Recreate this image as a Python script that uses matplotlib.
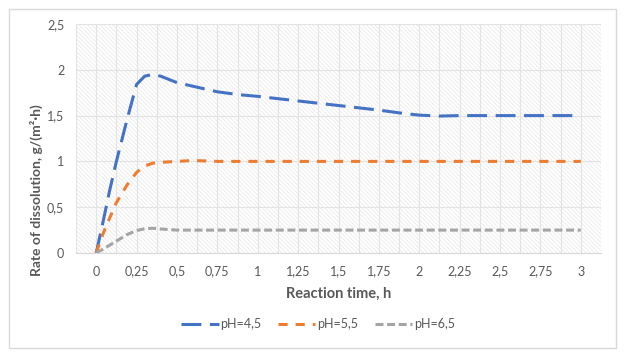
import matplotlib
matplotlib.use("Agg")
import matplotlib.pyplot as plt
from matplotlib.patches import Rectangle
import numpy as np

# ---- data ----
t_45 = [0, 0.04, 0.083, 0.125, 0.19, 0.25, 0.3, 0.35, 0.4, 0.5, 0.625, 0.75, 0.875, 1.0,
        1.25, 1.5, 1.75, 1.875, 2.0, 2.125, 2.25, 2.5, 2.75, 3.0]
r_45 = [0, 0.32, 0.68, 1.0, 1.45, 1.84, 1.93, 1.95, 1.93, 1.86, 1.81, 1.76, 1.73, 1.71,
        1.66, 1.61, 1.56, 1.53, 1.505, 1.495, 1.5, 1.5, 1.5, 1.5]

t_55 = [0, 0.04, 0.083, 0.125, 0.19, 0.25, 0.3, 0.35, 0.4, 0.5, 0.6, 0.75, 1.0,
        1.25, 1.5, 1.75, 2.0, 2.25, 2.5, 2.75, 3.0]
r_55 = [0, 0.2, 0.38, 0.55, 0.74, 0.88, 0.95, 0.98, 0.99, 1.0, 1.01, 1.0, 1.0,
        1.0, 1.0, 1.0, 1.0, 1.0, 1.0, 1.0, 1.0]

t_65 = [0, 0.06, 0.125, 0.19, 0.25, 0.3, 0.35, 0.4, 0.5, 0.75, 1.0,
        1.25, 1.5, 1.75, 2.0, 2.25, 2.5, 2.75, 3.0]
r_65 = [0, 0.06, 0.13, 0.2, 0.245, 0.265, 0.27, 0.262, 0.25, 0.25, 0.25,
        0.25, 0.25, 0.25, 0.25, 0.25, 0.25, 0.25, 0.25]

labels = ["pH=4,5", "pH=5,5", "pH=6,5"]
x_ticks = [0, 0.25, 0.5, 0.75, 1, 1.25, 1.5, 1.75, 2, 2.25, 2.5, 2.75, 3]
y_ticks = [0, 0.5, 1, 1.5, 2, 2.5]

def fmt(v):
    return ("%g" % v).replace(".", ",")

plt.rcParams['font.family'] = ['Lato', 'DejaVu Sans']
plt.rcParams['hatch.linewidth'] = 0.5

W, H = 624, 353
fig = plt.figure(figsize=(W / 100, H / 100), dpi=100)

# outer border of chart area
fig.patches.append(Rectangle((9 / W, 1 - 348 / H), (616 - 9) / W, (348 - 9) / H,
                             transform=fig.transFigure, fill=False,
                             edgecolor='#D9D9D9', linewidth=1.0))

ax = fig.add_axes([76 / W, 1 - 253 / H, (601 - 76) / W, (253 - 24) / H])
ax.set_facecolor('white')

# hatched background
hatch = Rectangle((0, 0), 1, 1, transform=ax.transAxes, fill=False,
                  hatch='\\\\\\\\\\\\\\\\', edgecolor='#E6E6E6', linewidth=0, zorder=0)
ax.add_patch(hatch)

ax.set_xlim(-0.125, 3.125)
ax.set_ylim(0, 2.5)

ax.set_xticks(x_ticks)
ax.set_xticklabels([fmt(v) for v in x_ticks])
ax.set_xticks(np.arange(-0.125, 3.126, 0.125), minor=True)
ax.set_yticks(y_ticks)
ax.set_yticklabels([fmt(v) for v in y_ticks])

ax.grid(True, which='both', axis='x', color='#E3E3E3', linewidth=0.8, zorder=1)
ax.grid(True, which='major', axis='y', color='#E3E3E3', linewidth=0.8, zorder=1)
ax.set_axisbelow(True)

ax.tick_params(axis='both', which='both', length=0, colors='#595959', labelsize=9)
ax.tick_params(axis='y', pad=8.5)
ax.tick_params(axis='x', pad=9)

for s in ['top', 'right', 'left']:
    ax.spines[s].set_visible(False)
ax.spines['bottom'].set_color('#D9D9D9')
ax.spines['bottom'].set_linewidth(0.8)

l1, = ax.plot(t_45, r_45, color='#4472C4', linewidth=2.2, label=labels[0], zorder=3)
l1.set_dashes([6.5, 2.8])
l2, = ax.plot(t_55, r_55, color='#ED7D31', linewidth=2.2, label=labels[1], zorder=3)
l2.set_dashes([3.0, 2.6])
l3, = ax.plot(t_65, r_65, color='#A5A5A5', linewidth=2.2, label=labels[2], zorder=3)
l3.set_dashes([2.6, 1.2])

ax.set_xlabel("Reaction time, h", fontsize=10.5, fontweight='bold', color='#595959',
              labelpad=7)
fig.text(36 / W, 1 - 190 / H, "Rate of dissolution, g/(m²·h)", rotation=90,
         ha='center', va='center', fontsize=10, fontweight='bold', color='#595959')

leg = fig.legend(handles=[l1, l2, l3], loc='center', bbox_to_anchor=(318 / W, 1 - 324 / H),
                 ncol=3, frameon=False, fontsize=9, handlelength=3.0, columnspacing=1.3,
                 handletextpad=0.15)
for t in leg.get_texts():
    t.set_color('#595959')

fig.savefig("out.png", dpi=100)
